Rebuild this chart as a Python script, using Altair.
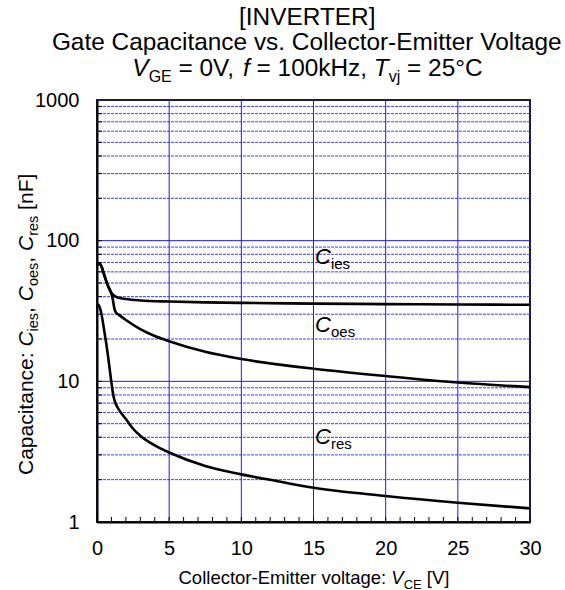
import altair as alt
import pandas as pd

# Gate capacitance curves, capacitance [nF] against V_CE [V]
v_ies = [0, 0.15, 0.3, 0.5, 0.75, 1.0, 1.2, 1.5, 2, 3, 5, 7.5, 10, 15, 20, 25, 30]
c_ies = [67, 69, 66, 57, 48, 42.5, 40.5, 39.3, 38.5, 37.6, 36.9, 36.4, 36.1, 35.7, 35.4, 35.2, 35.0]

v_oes = [0, 0.15, 0.3, 0.5, 0.75, 1.0, 1.1, 1.2, 1.3, 1.5, 2, 3, 4, 5, 7.5, 10, 12.5, 15, 20, 25, 30]
c_oes = [67, 69, 66, 57, 48, 42, 38, 33, 31, 29.8, 27.3, 23.5, 21, 19.3, 16.2, 14.4, 13.2, 12.3, 10.9, 9.8, 9.1]

v_res = [0, 0.1, 0.25, 0.5, 0.75, 1.0, 1.1, 1.2, 1.4, 1.7, 2, 2.5, 3, 4, 5, 7.5, 10, 12.5, 15, 20, 25, 30]
c_res = [34, 35, 32, 23, 15.5, 9.8, 8.3, 7.4, 6.6, 5.9, 5.4, 4.6, 4.1, 3.5, 3.12, 2.5, 2.18, 1.95, 1.75, 1.53, 1.37, 1.25]

x_tick_labels = [0, 5, 10, 15, 20, 25, 30]
y_tick_labels = [1, 10, 100, 1000]

# curve labels: subscript text and the capacitance where each label sits
curve_subs = ["ies", "oes", "res"]
curve_label_c = [68.5, 22.6, 3.61]
curve_label_v = 15.1

FONT = "Liberation Sans"
BLUE = "#1a1aff"

# plot frame on the page
L, T, PW, PH = 97, 100, 433, 422
PAGE_W, PAGE_H = 565, 590

xs = alt.Scale(domain=[0, 30], nice=False, zero=False)
ys = alt.Scale(type="log", domain=[1, 1000], nice=False)

x_axis = alt.Axis(
    values=x_tick_labels, title=None, labelFont=FONT, labelFontSize=20,
    labelColor="black", ticks=False, grid=False, domainColor="black",
    domainWidth=2, labelPadding=16, labelFlush=False, labelOverlap=False)
y_axis = alt.Axis(
    values=y_tick_labels, format="d", title=None, labelFont=FONT,
    labelFontSize=20, labelColor="black", ticks=False, grid=False,
    domainColor="black", domainWidth=2, labelPadding=18,
    labelFlush=False, labelOverlap=False)


def X(field="V"):
    return alt.X(f"{field}:Q", scale=xs, axis=x_axis)


def Y(field="C"):
    return alt.Y(f"{field}:Q", scale=ys, axis=y_axis)


rows = []
for name, vv, cc in (("ies", v_ies, c_ies), ("oes", v_oes, c_oes), ("res", v_res, c_res)):
    rows += [{"V": v, "C": c, "series": name} for v, c in zip(vv, cc)]
curves = pd.DataFrame(rows)

# decade/minor positions for grid and inner ticks
minor_c = [m * 10 ** k for k in range(3) for m in range(2, 10)]
major_c = [10, 100]
grid_v = [5, 10, 15, 20, 25]
tick_v = list(range(0, 31))

lines = alt.Chart(curves).mark_line(
    color="black", strokeWidth=2.6, interpolate="monotone"
).encode(x=X(), y=Y(), detail="series:N")

vgrid = alt.Chart(pd.DataFrame({"V": grid_v})).mark_rule(
    color=BLUE, strokeWidth=1
).encode(x=X())

hmajor = alt.Chart(pd.DataFrame({"C": major_c})).mark_rule(
    color=BLUE, strokeWidth=1
).encode(y=Y())

hminor = alt.Chart(pd.DataFrame({"C": minor_c})).mark_rule(
    color="#3a3aff", strokeWidth=1, strokeDash=[3, 1]
).encode(y=Y())

xticks = alt.Chart(pd.DataFrame({"V": tick_v})).mark_rule(
    color="black", strokeWidth=1
).encode(x=X(), y=alt.value(PH), y2=alt.value(PH - 5))

yticks = alt.Chart(pd.DataFrame({"C": minor_c + major_c})).mark_rule(
    color="black", strokeWidth=1
).encode(y=Y(), x=alt.value(0), x2=alt.value(5))

# Arial / Liberation Sans advance widths (1/1000 em)
WID = {" ": 278, "[": 278, "]": 278, "-": 333, ".": 278, ",": 278, ":": 278,
       "=": 584, "°": 400}
for ch in "0123456789":
    WID[ch] = 556
WID.update(dict(zip("ABCDEFGHIJKLMNOPQRSTUVWXYZ",
                    [667, 667, 722, 722, 667, 611, 778, 722, 278, 500, 667, 556, 833,
                     722, 778, 667, 778, 722, 667, 611, 722, 667, 944, 667, 667, 611])))
WID.update(dict(zip("abcdefghijklmnopqrstuvwxyz",
                    [556, 556, 500, 556, 556, 278, 556, 556, 222, 222, 500, 222, 833,
                     556, 556, 556, 556, 333, 500, 278, 556, 500, 722, 500, 500, 500])))


def text_width(s, size):
    return sum(WID.get(ch, 556) for ch in s) * size / 1000.0


one = pd.DataFrame({"k": [0]})


def rich(parts, x0, y0, size, sub_size, sub_shift, angle=0, anchor="left"):
    """Text run with italic letters and subscripts, in page pixels."""
    total = sum(text_width(t, sub_size if k == "s" else size) for t, k in parts)
    if angle == 0:
        start = x0 - total / 2 if anchor == "center" else x0
    else:
        start = y0 + total / 2 if anchor == "center" else y0
    out = []
    pos = 0.0
    for txt, kind in parts:
        fs = sub_size if kind == "s" else size
        off = sub_shift if kind == "s" else 0
        lead = len(txt) - len(txt.lstrip(" "))
        pos += text_width(" " * lead, fs)
        body = txt.strip(" ")
        if angle == 0:
            px, py = start + pos, y0 + off
        else:
            px, py = x0 + off, start - pos
        out.append(
            alt.Chart(one).mark_text(
                text=body, align="left", baseline="alphabetic", font=FONT,
                fontSize=fs, fontStyle="italic" if kind == "i" else "normal",
                angle=angle, color="black",
            ).encode(x=alt.value(px - L), y=alt.value(py - T))
        )
        pos += text_width(txt.lstrip(" "), fs)
    return out


titles = []
titles += rich([("[INVERTER]", "n")], 307.5, 25, 24.4, 16, 6, anchor="center")
titles += rich([("Gate Capacitance vs. Collector-Emitter Voltage", "n")], 307.5, 50, 24.4,
               16, 6, anchor="center")
titles += rich([("V", "i"), ("GE", "s"), (" = 0V, ", "n"), ("f", "i"),
                (" = 100kHz, ", "n"), ("T", "i"), ("vj", "s"), (" = 25°C", "n")],
               307.5, 76, 24.4, 16, 6, anchor="center")
titles += rich([("Collector-Emitter voltage: ", "n"), ("V", "i"), ("CE", "s"),
                (" [V]", "n")], 314, 584, 18.5, 13, 4.5, anchor="center")
titles += rich([("Capacitance: ", "n"), ("C", "i"), ("ies", "s"), (", ", "n"),
                ("C", "i"), ("oes", "s"), (", ", "n"), ("C", "i"), ("res", "s"),
                (" [nF]", "n")], 33, 475, 21, 14.5, 4.5, angle=270)

lab = pd.DataFrame({"V": [curve_label_v] * 3, "C": curve_label_c, "sub": curve_subs})
lab_c = alt.Chart(lab).mark_text(
    text="C", align="left", baseline="alphabetic", font=FONT, fontSize=22,
    fontStyle="italic", color="black",
).encode(x=X(), y=Y())
lab_s = alt.Chart(lab).mark_text(
    align="left", baseline="alphabetic", font=FONT, fontSize=15, color="black",
    dx=16, dy=5.5,
).encode(x=X(), y=Y(), text="sub:N")

chart = alt.layer(
    hminor, hmajor, vgrid, lines, xticks, yticks, lab_c, lab_s, *titles
).properties(
    width=PW, height=PH,
    padding={"left": L, "top": T, "right": PAGE_W - L - PW, "bottom": PAGE_H - T - PH},
    autosize=alt.AutoSizeParams(type="none"),
    background="white",
).configure_view(stroke="#1c1c40", strokeWidth=2)

chart.save("out.html", embed_options={"renderer": "svg", "actions": False})
